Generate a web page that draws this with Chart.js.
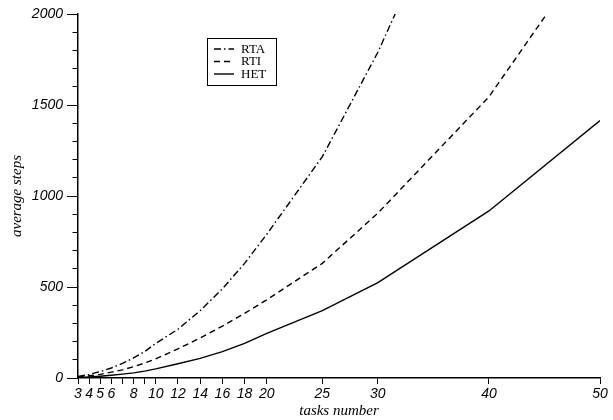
<!DOCTYPE html>
<html>
<head>
<meta charset="utf-8">
<script src="https://cdn.jsdelivr.net/npm/chart.js@4/dist/chart.umd.min.js"></script>
<style>
html,body{margin:0;padding:0;background:#fff;}
#wrap{width:613px;height:420px;position:relative;}
</style>
</head>
<body>
<div id="wrap"><canvas id="c" width="613" height="420"></canvas></div>
<script>
// ---- data ----
const tasks = [3,4,5,6,7,8,9,10,12,14,16,18,20,25,30,40,50];
const xTickLabels = ['3','4','5','6','','8','','10','12','14','16','18','20','25','30','40','50'];
const rta = [8,20,35,55,80,110,145,190,268,370,490,630,790,1216,1790,3140,4800];
const rti = [5,12,20,32,45,62,82,105,160,220,285,355,430,630,906,1545,2420];
const het = [3,6,10,15,21,28,38,50,78,108,145,190,245,370,524,918,1414];
const seriesNames = ['RTA','RTI','HET'];
const yMax = 2000;
const yStep = 100;
const yLabelStep = 500;

const toXY = arr => arr.map((v,i)=>({x:tasks[i], y:v}));

const legendPlugin = {
  id: 'boxLegend',
  afterDraw(chart){
    const ctx = chart.ctx;
    const bx = 207, by = 38, bw = 69, bh = 47;
    ctx.save();
    ctx.fillStyle = '#fff';
    ctx.fillRect(bx, by, bw, bh);
    ctx.strokeStyle = '#000';
    ctx.lineWidth = 1;
    ctx.setLineDash([]);
    ctx.strokeRect(bx+0.5, by+0.5, bw, bh);
    ctx.font = '13px "Liberation Serif", "Times New Roman", serif';
    ctx.textBaseline = 'middle';
    ctx.fillStyle = '#000';
    chart.data.datasets.forEach((ds, i) => {
      const yy = by + 11 + i * 12.5;
      ctx.beginPath();
      ctx.setLineDash(ds.borderDash || []);
      ctx.lineWidth = ds.borderWidth;
      ctx.moveTo(bx + 7, yy);
      ctx.lineTo(bx + 27, yy);
      ctx.stroke();
      ctx.setLineDash([]);
      ctx.fillText(ds.label, bx + 34, yy + 0.5);
    });
    ctx.restore();
  }
};

const bgPlugin = {
  id: 'bg',
  beforeDraw(chart){
    const ctx = chart.ctx;
    ctx.save();
    ctx.fillStyle = '#fff';
    ctx.fillRect(0,0,chart.width,chart.height);
    ctx.restore();
  }
};

const tickFont = {family: '"Liberation Sans", Arial, sans-serif', size: 14, style: 'italic'};
const titleFont = {family: '"Liberation Serif", "Times New Roman", serif', size: 15, style: 'italic'};

new Chart(document.getElementById('c'), {
  type: 'line',
  data: {
    datasets: [
      {label: seriesNames[0], data: toXY(rta), borderColor:'#000', borderWidth:1.4, borderDash:[7,3,1.5,3], pointRadius:0, tension:0, fill:false},
      {label: seriesNames[1], data: toXY(rti), borderColor:'#000', borderWidth:1.4, borderDash:[6,4], pointRadius:0, tension:0, fill:false},
      {label: seriesNames[2], data: toXY(het), borderColor:'#000', borderWidth:1.4, borderDash:[], pointRadius:0, tension:0, fill:false}
    ]
  },
  options: {
    responsive: false,
    animation: false,
    events: [],
    layout: {padding: {top: 14, right: 13, bottom: 0, left: 0}},
    plugins: {legend: {display:false}, tooltip: {enabled:false}},
    scales: {
      x: {
        type: 'linear', min: 3, max: 50,
        afterBuildTicks: s => { s.ticks = tasks.map(v => ({value: v})); },
        afterFit: s => { s.height = 42; },
        border: {display: true, color: '#000', width: 1.5},
        grid: {display: true, drawOnChartArea: false, drawTicks: true, tickLength: 6, tickColor: '#000', tickWidth: 1},
        ticks: {
          autoSkip: false, maxRotation: 0, padding: 2, color: '#000', font: tickFont,
          callback: (v) => { const i = tasks.indexOf(v); return i >= 0 ? xTickLabels[i] : ''; }
        },
        title: {display: true, text: 'tasks number', color: '#000', font: titleFont, padding: {top: 0, bottom: 0}}
      },
      y: {
        type: 'linear', min: 0, max: yMax,
        afterFit: s => { s.width = 78; },
        border: {display: true, color: '#000', width: 1.5},
        grid: {
          display: true, drawOnChartArea: false, drawTicks: true, tickLength: 11, tickColor: '#000', tickWidth: 1,
          tickBorderDash: ctx => (ctx.tick && ctx.tick.value % yLabelStep === 0) ? [] : [0, 5.5, 6, 0]
        },
        ticks: {
          stepSize: yStep, autoSkip: false, padding: 4, color: '#000', font: tickFont,
          callback: v => (v % yLabelStep === 0 ? String(v) : '')
        },
        title: {display: true, text: 'average steps', color: '#000', font: titleFont, padding: {top: 8, bottom: 0}}
      }
    }
  },
  plugins: [bgPlugin, legendPlugin]
});
</script>
</body>
</html>
